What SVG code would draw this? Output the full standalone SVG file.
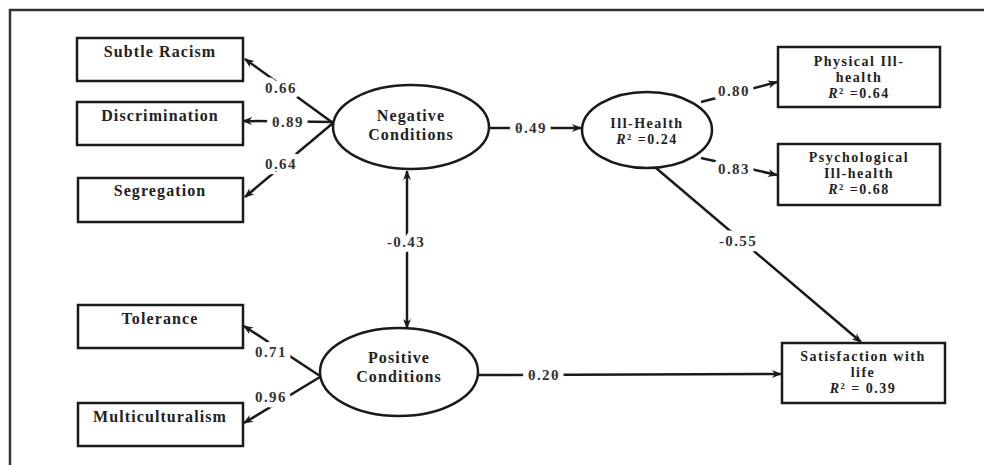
<svg xmlns="http://www.w3.org/2000/svg" width="984" height="465" viewBox="0 0 984 465">
<defs>
<marker id="ah" viewBox="0 0 10 10" refX="9" refY="5" markerWidth="10" markerHeight="10" markerUnits="userSpaceOnUse" orient="auto-start-reverse">
<path d="M0,1 L10,5 L0,9 L3,5 Z" fill="#1a1a1a"/>
</marker>
<style>
.box{fill:#fff;stroke:#1a1a1a;stroke-width:2.5}
.ell{fill:#fff;stroke:#1a1a1a;stroke-width:2.5}
.t{font-family:"Liberation Serif","Times New Roman",serif;font-size:16px;font-weight:bold;fill:#222;text-anchor:middle;letter-spacing:1.1px}
.m{font-size:14px;letter-spacing:1.5px}
.lab{font-family:"Liberation Serif","Times New Roman",serif;font-size:15px;font-weight:bold;fill:#333;text-anchor:middle;letter-spacing:1.4px;paint-order:stroke;stroke:#fff;stroke-width:11px;stroke-linejoin:round}
.c{fill:none;stroke:#1a1a1a;stroke-width:2.5;marker-end:url(#ah)}
.frame{fill:none;stroke:#333;stroke-width:2.5}
</style>
</defs>
<rect width="984" height="465" fill="#fff"/>
<path class="frame" d="M10,465 V10 H984"/>

<g id="connectors">
<line class="c" x1="333" y1="123" x2="245" y2="59"/>
<line class="c" x1="333" y1="122" x2="243" y2="121"/>
<line class="c" x1="333" y1="123" x2="245" y2="197"/>
<line class="c" x1="490" y1="128" x2="581" y2="128"/>
<line class="c" x1="407" y1="250" x2="407" y2="171"/>
<line class="c" x1="407" y1="250" x2="407" y2="328"/>
<line class="c" x1="701" y1="102" x2="777" y2="82"/>
<line class="c" x1="701" y1="158" x2="777" y2="175"/>
<line class="c" x1="656" y1="168" x2="861" y2="342"/>
<line class="c" x1="320" y1="376" x2="244" y2="326"/>
<line class="c" x1="320" y1="377" x2="244" y2="423"/>
<line class="c" x1="478" y1="375" x2="781" y2="374"/>
<text class="lab" x="281" y="93">0.66</text>
<text class="lab" x="288" y="127">0.89</text>
<text class="lab" x="281" y="169">0.64</text>
<text class="lab" x="531" y="133">0.49</text>
<text class="lab" x="406" y="247">-0.43</text>
<text class="lab" x="734" y="96">0.80</text>
<text class="lab" x="734" y="174">0.83</text>
<text class="lab" x="738" y="246">-0.55</text>
<text class="lab" x="271" y="357">0.71</text>
<text class="lab" x="271" y="402">0.96</text>
<text class="lab" x="544" y="380">0.20</text>
</g>

<g id="subtle-racism"><rect class="box" x="77" y="38" width="166" height="43"/><text class="t" x="160" y="57">Subtle Racism</text></g>
<g id="discrimination"><rect class="box" x="77" y="102" width="166" height="43"/><text class="t" x="160" y="121">Discrimination</text></g>
<g id="segregation"><rect class="box" x="78" y="178" width="165" height="44"/><text class="t" x="160" y="196">Segregation</text></g>
<g id="tolerance"><rect class="box" x="78" y="305" width="165" height="43"/><text class="t" x="160" y="324">Tolerance</text></g>
<g id="multiculturalism"><rect class="box" x="78" y="403" width="165" height="43"/><text class="t" x="160" y="422">Multiculturalism</text></g>

<g id="negative-conditions"><ellipse class="ell" cx="411" cy="127" rx="78" ry="42"/><text class="t" x="411" y="121">Negative</text><text class="t" x="411" y="140">Conditions</text></g>
<g id="positive-conditions"><ellipse class="ell" cx="399" cy="372" rx="79" ry="44"/><text class="t" x="399" y="363">Positive</text><text class="t" x="399" y="382">Conditions</text></g>
<g id="ill-health"><ellipse class="ell" cx="647" cy="130" rx="65" ry="38"/><text class="t m" x="647" y="128">Ill-Health</text><text class="t m" x="647" y="144"><tspan font-style="italic">R</tspan>² =0.24</text></g>

<g id="physical-ill-health"><rect class="box" x="778" y="47" width="162" height="60"/><text class="t m" x="859" y="66">Physical  Ill-</text><text class="t m" x="859" y="82">health</text><text class="t m" x="859" y="98"><tspan font-style="italic">R</tspan>² =0.64</text></g>
<g id="psychological-ill-health"><rect class="box" x="778" y="144" width="162" height="61"/><text class="t m" x="859" y="162">Psychological</text><text class="t m" x="859" y="178">Ill-health</text><text class="t m" x="859" y="194"><tspan font-style="italic">R</tspan>² =0.68</text></g>
<g id="satisfaction-with-life"><rect class="box" x="782" y="343" width="163" height="60"/><text class="t m" x="863" y="361">Satisfaction with</text><text class="t m" x="863" y="377">life</text><text class="t m" x="863" y="393"><tspan font-style="italic">R</tspan>² = 0.39</text></g>
</svg>
